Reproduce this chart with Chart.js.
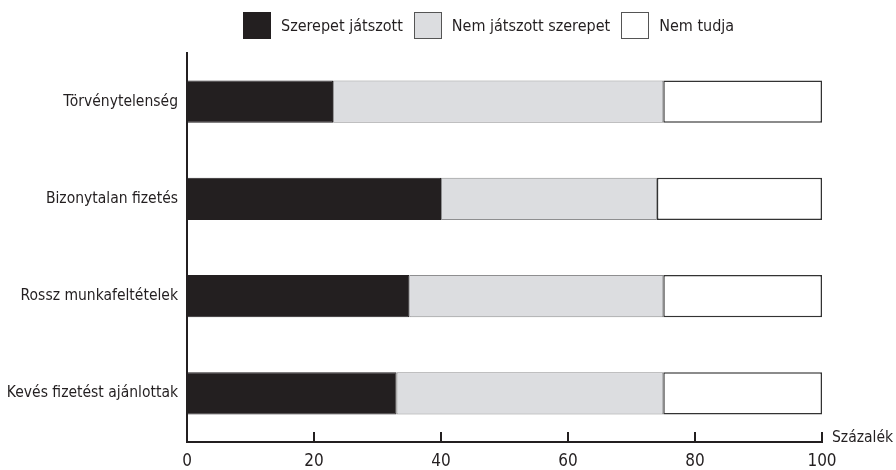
<!DOCTYPE html>
<html>
<head>
<meta charset="utf-8">
<script src="https://cdn.jsdelivr.net/npm/chart.js@4.4.0/dist/chart.umd.min.js"></script>
<style>
  html, body { margin: 0; padding: 0; background: #fff; }
  #wrap { position: relative; width: 896px; height: 470px; }
  #legend { position: absolute; top: 12px; left: 243px; display: flex; align-items: center;
            font-family: 'DejaVu Sans Condensed', sans-serif; font-size: 16px; color: #231f20; }
  #legend .item { display: flex; align-items: center; margin-right: 11px; }
  #legend .box { width: 26px; height: 25px; margin-right: 10px; border: 1px solid #333; }
</style>
</head>
<body>
<div id="wrap">
  <div id="legend"></div>
  <canvas id="chart"></canvas>
</div>
<script>
// data
const categories = ["Törvénytelenség", "Bizonytalan fizetés", "Rossz munkafeltételek", "Kevés fizetést ajánlottak"];
const played = [23, 40, 35, 33];
const notPlayed = [52, 34, 40, 42];
const dontKnow = [25, 26, 25, 25];
const xTicks = [0, 20, 40, 60, 80, 100];
const seriesNames = ["Szerepet játszott", "Nem játszott szerepet", "Nem tudja"];
const unitLabel = "Százalék";

const FONT = "'DejaVu Sans Condensed', 'Liberation Sans Narrow', sans-serif";
const INK = "#231f20";
const fills = [INK, "#dcdde0", "#ffffff"];
const strokes = [INK, "#8e8e90", "#333333"];

// ticks pointing up from the x axis + unit label
const axisExtras = {
    id: "axisExtras",
    afterDraw(chart) {
        const ctx = chart.ctx;
        const x = chart.scales.x;
        const bottom = chart.chartArea.bottom;
        ctx.save();
        ctx.strokeStyle = INK;
        ctx.lineWidth = 2;
        xTicks.forEach(v => {
            const px = x.getPixelForValue(v);
            ctx.beginPath();
            ctx.moveTo(px, bottom);
            ctx.lineTo(px, bottom - 10);
            ctx.stroke();
        });
        ctx.fillStyle = INK;
        ctx.font = "15.5px " + FONT;
        ctx.textBaseline = "middle";
        ctx.textAlign = "left";
        ctx.fillText(unitLabel, x.getPixelForValue(100) + 10, bottom - 4);
        ctx.restore();
    }
};

// legend
const legendEl = document.getElementById("legend");
seriesNames.forEach((name, i) => {
    const item = document.createElement("div");
    item.className = "item";
    const box = document.createElement("span");
    box.className = "box";
    box.style.background = fills[i];
    box.style.borderColor = i === 0 ? INK : "#555";
    const txt = document.createElement("span");
    txt.textContent = name;
    item.appendChild(box);
    item.appendChild(txt);
    legendEl.appendChild(item);
});

new Chart(document.getElementById("chart"), {
    type: "bar",
    data: {
        labels: categories,
        datasets: [
            { label: seriesNames[0], data: played, backgroundColor: fills[0], borderColor: strokes[0], borderWidth: 1 },
            { label: seriesNames[1], data: notPlayed, backgroundColor: fills[1], borderColor: strokes[1], borderWidth: 1 },
            { label: seriesNames[2], data: dontKnow, backgroundColor: fills[2], borderColor: strokes[2], borderWidth: 1.5 }
        ]
    },
    plugins: [axisExtras],
    options: {
        indexAxis: "y",
        responsive: true,
        maintainAspectRatio: false,
        animation: false,
        layout: { padding: { top: 53, right: 74, left: 0, bottom: 0 } },
        datasets: { bar: { barPercentage: 0.435, categoryPercentage: 1, borderSkipped: false } },
        plugins: {
            tooltip: { enabled: false },
            legend: { display: false }
        },
        scales: {
            x: {
                stacked: true,
                min: 0,
                max: 100,
                grid: { display: false, drawTicks: false, tickLength: 0 },
                border: { display: true, color: INK, width: 2 },
                afterBuildTicks: s => { s.ticks = xTicks.map(v => ({ value: v })); },
                afterFit: s => { s.height = 28; },
                ticks: { color: INK, padding: 9, font: { family: FONT, size: 17 } }
            },
            y: {
                stacked: true,
                grid: { display: false, drawTicks: false, tickLength: 0 },
                border: { display: true, color: INK, width: 2 },
                afterFit: s => { s.width = 187; },
                ticks: { color: INK, padding: 9, font: { family: FONT, size: 15.5 } }
            }
        }
    }
});
</script>
</body>
</html>
